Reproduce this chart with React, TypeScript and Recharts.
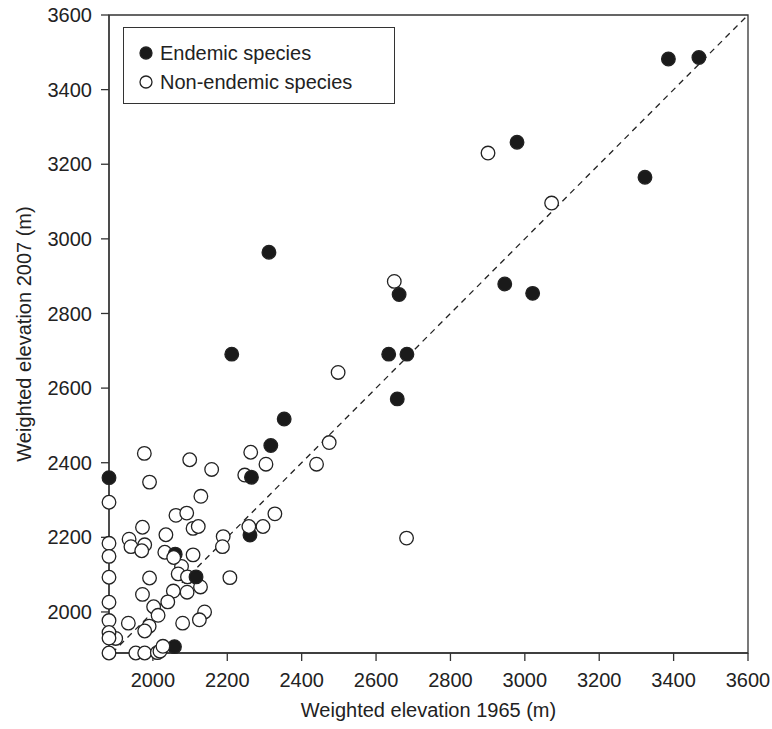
import { ScatterChart, Scatter, XAxis, YAxis, ReferenceLine, ReferenceArea } from "recharts";

// [1965, 2007] weighted elevations (m)
const endemic = [
  [1882, 2360], [2058, 1907], [2060, 2155], [2116, 2094], [2261, 2206],
  [2265, 2361], [2317, 2446], [2353, 2517], [2312, 2964], [2212, 2691],
  [2634, 2691], [2683, 2691], [2657, 2571], [2662, 2851], [2946, 2879],
  [3021, 2854], [2979, 3259], [3323, 3165], [3386, 3482], [3468, 3486],
];

const nonEndemic = [
  [2901, 3230], [3072, 3096], [2649, 2886], [2498, 2642], [2474, 2454],
  [2440, 2396], [2682, 2198], [2263, 2428], [2304, 2396], [2247, 2367],
  [2328, 2263], [2296, 2229], [2189, 2202], [2187, 2175], [2207, 2092],
  [2099, 2408], [2158, 2382], [2129, 2310], [1977, 2425], [1991, 2348],
  [2062, 2259], [2091, 2265], [2108, 2224], [2122, 2229], [1972, 2227],
  [2035, 2207], [1936, 2195], [1941, 2175], [1978, 2180], [1970, 2164],
  [2032, 2160], [2108, 2153], [2077, 2122], [2068, 2102], [2093, 2094],
  [1991, 2091], [2128, 2067], [2092, 2053], [2055, 2056], [1972, 2047],
  [2040, 2027], [2002, 2014], [2014, 1991], [2139, 2000], [2125, 1979],
  [2080, 1970], [1934, 1970], [1990, 1962], [1978, 1949], [1900, 1929],
  [1954, 1890], [1978, 1890], [2012, 1891], [2019, 1895],
  [1882, 2294], [1882, 2184], [1882, 2149], [1882, 2093], [1882, 2026],
  [1882, 1977], [1882, 1945], [1882, 1930], [1882, 1890],
];

// open circles that sit on top of a filled one
const nonEndemicFront = [[2027, 1908], [2056, 2146], [2258, 2229]];

const xTicks = [2000, 2200, 2400, 2600, 2800, 3000, 3200, 3400, 3600];
const yTicks = [2000, 2200, 2400, 2600, 2800, 3000, 3200, 3400, 3600];

const toXY = (arr: number[][]) => arr.map(([x, y]) => ({ x, y }));

const FONT = "'Liberation Sans', Arial, Helvetica, sans-serif";
const INK = "#222";

const Dot = (fill: string) => (props: any) => (
  <circle cx={props.cx} cy={props.cy} r={6.8} fill={fill} stroke={INK} strokeWidth={1.3} />
);

const legendRows = [
  { label: "Endemic species", fill: "#1a1a1a", top: 25 },
  { label: "Non-endemic species", fill: "#fff", top: 54 },
];

const LegendBox = () => (
  <div
    style={{
      position: "absolute",
      left: 123,
      top: 27,
      width: 272,
      height: 77,
      border: "1px solid #333",
      background: "#fff",
      fontFamily: FONT,
      fontSize: 20,
      color: INK,
      boxSizing: "border-box",
    }}
  >
    {legendRows.map((r) => (
      <div key={r.label} style={{ position: "absolute", left: 14, top: r.top - 13, height: 26, display: "flex", alignItems: "center", whiteSpace: "nowrap" }}>
        <svg width={16} height={16} style={{ marginRight: 6 }}>
          <circle cx={8} cy={8} r={6} fill={r.fill} stroke={INK} strokeWidth={1.3} />
        </svg>
        <span>{r.label}</span>
      </div>
    ))}
  </div>
);

const App = () => {
  return (
    <div style={{ position: "absolute", left: 0, top: 0, width: 772, height: 729, background: "#fff" }}>
      <ScatterChart width={772} height={729} margin={{ top: 15, right: 24, bottom: 0, left: 0 }}>
        <XAxis
          type="number"
          dataKey="x"
          domain={[1882, 3600]}
          ticks={xTicks}
          height={76}
          tickSize={8}
          tickMargin={12}
          stroke="#333"
          strokeWidth={1.3}
          tick={{ fill: INK, fontSize: 20, fontFamily: FONT }}
          label={{ value: "Weighted elevation 1965 (m)", position: "insideBottom", offset: 12, fill: INK, fontSize: 20, fontFamily: FONT }}
        />
        <YAxis
          type="number"
          dataKey="y"
          domain={[1890, 3600]}
          ticks={yTicks}
          width={109}
          tickSize={8}
          tickMargin={9}
          stroke="#333"
          strokeWidth={1.3}
          tick={{ fill: INK, fontSize: 20, fontFamily: FONT }}
          label={{ value: "Weighted elevation 2007 (m)", angle: -90, position: "insideLeft", offset: 24, fill: INK, fontSize: 20, fontFamily: FONT, style: { textAnchor: "middle" } }}
        />
        <ReferenceArea x1={1882} x2={3600} y1={1890} y2={3600} fill="none" stroke="#333" strokeWidth={1.3} ifOverflow="visible" />
        <ReferenceLine
          segment={[{ x: 1890, y: 1890 }, { x: 3600, y: 3600 }]}
          stroke={INK}
          strokeWidth={1.3}
          strokeDasharray="6 5"
          ifOverflow="visible"
        />
        <Scatter name="Non-endemic species" data={toXY(nonEndemic)} shape={Dot("#fff")} isAnimationActive={false} />
        <Scatter name="Endemic species" data={toXY(endemic)} shape={Dot("#1a1a1a")} isAnimationActive={false} />
        <Scatter name="front" data={toXY(nonEndemicFront)} shape={Dot("#fff")} isAnimationActive={false} />
      </ScatterChart>
      <LegendBox />
    </div>
  );
};

export default App;
